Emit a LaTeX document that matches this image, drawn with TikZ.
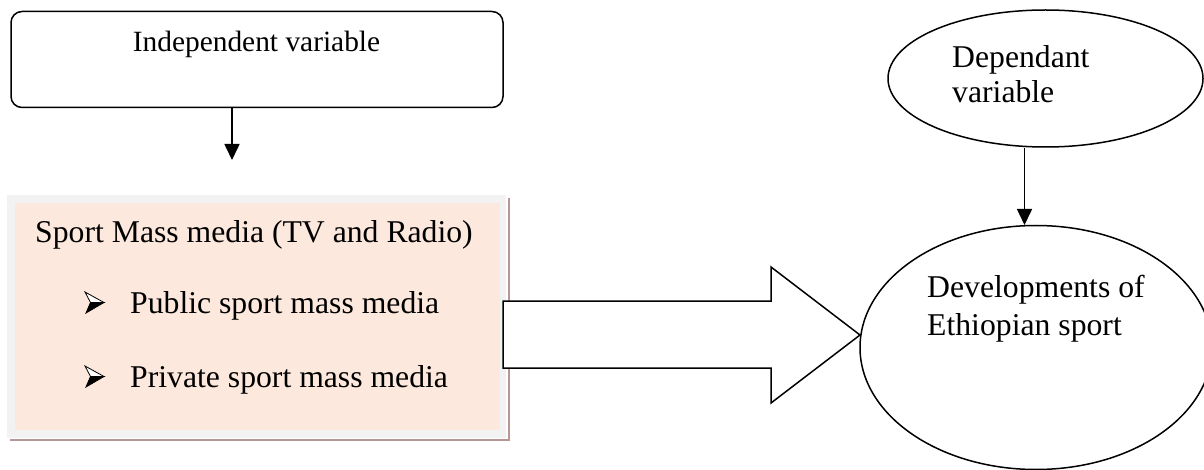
\documentclass[tikz,border=0pt]{standalone}
\usepackage{fontspec}
\setmainfont{Liberation Serif}
\usetikzlibrary{arrows.meta,shapes.geometric}
\definecolor{pinkc}{RGB}{252,232,220}
\definecolor{framec}{RGB}{242,242,242}
\definecolor{shadowc}{RGB}{185,150,150}
\begin{document}
\begin{tikzpicture}[x=1pt,y=-1pt,
  outl/.style={draw=black, line width=1.5pt},
  txt/.style={inner sep=0pt, anchor=base west, font=\fontsize{31.7}{38}\selectfont},
  arr/.style={line width=1.6pt, -{Triangle[length=16pt,width=15pt]}},
  bulletup/.style={draw=black, line width=0.8pt, fill=white},
  bulletdn/.style={draw=black, line width=0.8pt, fill=black}]
\useasboundingbox (0,0) rectangle (1204,470);
\clip (0,0) rectangle (1204,470);

% independent variable box
\node[outl, rounded corners=11pt, minimum width=492pt, minimum height=96pt, inner sep=0pt] (iv) at (257,59.5) {};
\node[anchor=base, inner sep=0pt, font=\fontsize{29.4}{35}\selectfont] (ivt) at (256.5,52) {Independent variable};
\coordinate (a1) at (232,160);
\draw[arr] (iv.south -| a1) -- (a1);

% shaded media box
\fill[shadowc] (10,198) rectangle (510,441);
\fill[white] (7,195) rectangle (508,439);
\fill[framec] (7,195) rectangle (506,437.5);
\node[fill=pinkc, minimum width=485pt, minimum height=227pt, inner sep=0pt] (sm) at (257.5,316.5) {};
\node[txt] (smt) at (35,243) {Sport Mass media (TV and Radio)};
% bullets
\foreach \by/\nm in {302.5/b1, 376.5/b2}{
  \coordinate (\nm) at (0,\by);
  \draw[bulletup] (85,\by-10.5) -- (104,\by) -- (90.5,\by) -- cycle;
  \draw[bulletdn] (86,\by+10.5) -- (104,\by) -- (90.5,\by) -- cycle;
}
\node[txt] (pub) at (130,313) {Public sport mass media};
\node[txt] (pri) at (130,387) {Private sport mass media};

% block arrow
\draw[outl, fill=white, line join=miter] (503,301) -- (771,301) -- (771,267) -- (860,335) -- (771,403) -- (771,368) -- (503,368) -- cycle;
\coordinate (ba) at (860,335);

% dependent variable ellipse
\node[outl, ellipse, minimum width=315pt, minimum height=137pt, inner sep=0pt] (dv) at (1045.5,78.5) {};
\node[txt] (dvt1) at (952,68) {Dependant};
\node[txt] (dvt2) at (952,103) {variable};

% developments ellipse
\node[outl, ellipse, minimum width=352pt, minimum height=244pt, inner sep=0pt] (dev) at (1036,347.5) {};
\node[txt] (devt1) at (927,298) {Developments of};
\node[txt] (devt2) at (927,335) {Ethiopian sport};

\coordinate (a2) at (1024.5,225);
\draw[arr] (dv.south -| a2) -- (a2);
\end{tikzpicture}
\end{document}
